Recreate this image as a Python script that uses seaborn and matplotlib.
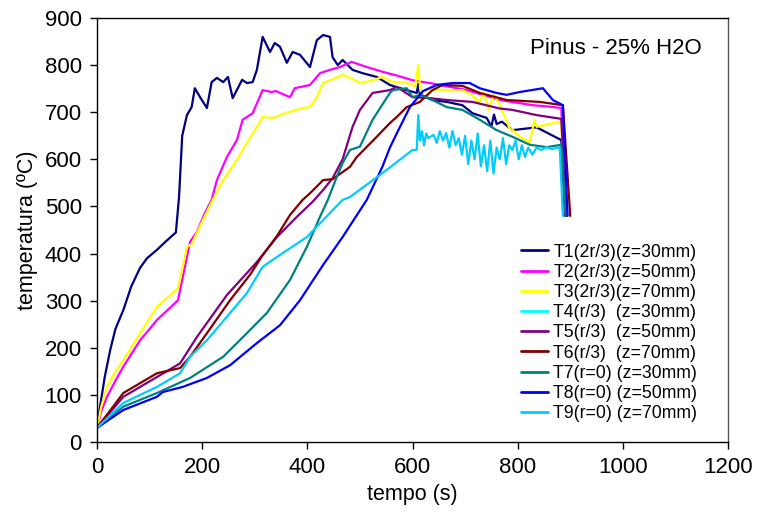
import matplotlib
matplotlib.use("Agg")
import matplotlib.pyplot as plt
import seaborn as sns

# tempo (s) / temperatura (C)
t1_t = [0, 5, 15, 25, 35, 50, 65, 82, 95, 114, 130, 150, 156, 162, 171, 180, 186, 196, 209, 218, 228, 240, 249,
        258, 276, 285, 296, 304, 315, 329, 338, 348, 361, 372, 386, 405, 418, 430, 443, 448, 458, 467, 486,
        505, 532, 557, 589, 608, 611, 614, 638, 665, 695, 714, 741, 750, 755, 760, 770, 790, 836, 883, 890]
t1_y = [30, 70, 140, 195, 240, 280, 330, 370, 390, 408, 425, 445, 520, 650, 694, 711, 751, 732, 709, 764, 773,
        764, 775, 730, 769, 762, 764, 790, 860, 828, 847, 839, 805, 828, 822, 796, 853, 864, 860, 817, 800,
        811, 790, 783, 775, 758, 747, 741, 760, 738, 726, 722, 715, 698, 688, 670, 695, 675, 680, 662, 668,
        641, 480]

t2_t = [0, 8, 19, 35, 50, 82, 114, 154, 177, 190, 205, 218, 228, 247, 266, 277, 296, 315, 332, 340, 367, 376,
        405, 424, 443, 462, 484, 513, 543, 570, 600, 633, 665, 700, 740, 766, 800, 829, 860, 883, 892]
t2_y = [30, 65, 96, 130, 160, 216, 259, 301, 425, 446, 486, 514, 556, 605, 641, 684, 698, 747, 743, 745, 732,
        751, 758, 783, 790, 796, 807, 796, 786, 778, 768, 762, 755, 748, 735, 726, 720, 715, 712, 709, 480]

t3_t = [0, 8, 19, 35, 50, 82, 114, 154, 171, 180, 205, 220, 240, 266, 285, 304, 315, 334, 348, 367, 391, 405,
        418, 430, 443, 467, 481, 500, 524, 543, 560, 590, 605, 611, 615, 640, 665, 695, 715, 728, 735, 745,
        755, 766, 785, 791, 804, 823, 832, 836, 867, 883, 892]
t3_y = [30, 75, 117, 150, 174, 231, 287, 326, 414, 420, 480, 514, 556, 599, 635, 669, 690, 688, 694, 701, 709,
        711, 732, 762, 768, 779, 773, 762, 768, 775, 765, 762, 755, 800, 745, 748, 747, 747, 735, 720, 745,
        705, 740, 715, 665, 662, 648, 637, 684, 669, 677, 680, 480]

t4_t = []
t4_y = []

t5_t = [0, 50, 114, 158, 190, 247, 304, 342, 380, 410, 430, 448, 467, 486, 500, 524, 557, 570, 600, 633, 665,
        714, 766, 790, 836, 883, 892]
t5_y = [30, 96, 138, 167, 223, 312, 382, 435, 478, 510, 535, 560, 600, 669, 705, 741, 747, 754, 732, 730, 726,
        722, 708, 705, 694, 686, 480]

t6_t = [0, 50, 114, 158, 177, 209, 253, 291, 314, 342, 367, 391, 405, 430, 448, 481, 494, 532, 557, 570, 589,
        614, 638, 657, 695, 728, 779, 842, 886, 900]
t6_y = [30, 104, 146, 157, 181, 231, 301, 355, 395, 437, 482, 514, 528, 556, 558, 584, 605, 648, 677, 690, 711,
        722, 747, 758, 756, 741, 726, 722, 715, 480]

t7_t = [0, 50, 114, 177, 240, 285, 323, 367, 399, 424, 439, 456, 467, 481, 500, 524, 557, 563, 589, 600, 614,
        638, 665, 695, 728, 760, 790, 823, 855, 883, 892]
t7_y = [30, 75, 104, 136, 181, 231, 274, 344, 414, 478, 514, 563, 592, 620, 627, 684, 741, 747, 751, 732, 737,
        726, 711, 705, 684, 662, 648, 631, 626, 631, 480]

t8_t = [0, 50, 114, 125, 163, 209, 253, 304, 348, 386, 430, 467, 513, 524, 543, 557, 570, 595, 620, 646, 676,
        709, 728, 760, 779, 804, 848, 867, 886, 895]
t8_y = [30, 68, 96, 106, 117, 136, 163, 210, 248, 301, 376, 435, 514, 540, 585, 625, 655, 711, 745, 758, 762,
        762, 751, 741, 737, 743, 751, 726, 715, 480]

t9_t = [0, 50, 114, 158, 177, 209, 253, 285, 315, 353, 399, 430, 467, 481, 543, 600, 608, 611, 614, 618, 622,
        626, 630, 634, 640, 646, 652, 658, 664, 670, 676, 682, 688, 694, 700, 706, 712, 718, 724, 730, 736,
        742, 748, 754, 760, 766, 772, 778, 784, 790, 796, 802, 808, 814, 820, 828, 836, 845, 855, 865, 880, 886]
t9_y = [30, 83, 117, 146, 181, 216, 274, 316, 372, 401, 435, 471, 514, 520, 571, 620, 620, 694, 640, 660, 630,
        655, 645, 648, 652, 635, 660, 640, 656, 625, 660, 630, 645, 610, 650, 590, 640, 600, 655, 585, 630,
        575, 640, 570, 625, 600, 645, 590, 630, 620, 640, 600, 630, 605, 625, 610, 625, 620, 626, 622, 626, 480]

series_t = [t1_t, t2_t, t3_t, t4_t, t5_t, t6_t, t7_t, t8_t, t9_t]
series_y = [t1_y, t2_y, t3_y, t4_y, t5_y, t6_y, t7_y, t8_y, t9_y]
labels = ["T1(2r/3)(z=30mm)", "T2(2r/3)(z=50mm)", "T3(2r/3)(z=70mm)",
          "T4(r/3)  (z=30mm)", "T5(r/3)  (z=50mm)", "T6(r/3)  (z=70mm)",
          "T7(r=0) (z=30mm)", "T8(r=0) (z=50mm)", "T9(r=0) (z=70mm)"]
colors = ["#000080", "#FF00FF", "#FFFF00", "#00FFFF", "#800080",
          "#800000", "#008080", "#0000FF", "#00CCFF"]

sns.set_style("ticks")
plt.rcParams['font.family'] = ['Liberation Sans', 'DejaVu Sans']
plt.rcParams.update({"text.color": "black", "axes.labelcolor": "black",
                     "xtick.color": "black", "ytick.color": "black"})

fig = plt.figure(figsize=(7.58, 5.16), dpi=100)
ax = fig.add_axes([0.128, 0.1434, 0.8324, 0.8216])

for t, y, lab, col in zip(series_t, series_y, labels, colors):
    if len(t) == 0:
        ax.plot([], [], color=col, lw=2, label=lab)
        continue
    sns.lineplot(x=t, y=y, color=col, lw=1.6, label=lab, estimator=None, sort=False, ax=ax)

ax.set_xlim(0, 1200)
ax.set_ylim(0, 900)
ax.set_xticks(range(0, 1201, 200))
ax.set_yticks(range(0, 901, 100))
ax.tick_params(labelsize=16, length=5, width=1, pad=6)
ax.set_xlabel("tempo (s)", fontsize=15.5, labelpad=4)
ax.set_ylabel("temperatura (ºC)", fontsize=15.5, labelpad=5)
for s in ax.spines.values():
    s.set_color("black")
    s.set_linewidth(1)
ax.spines["right"].set_color("#555555")

ax.text(986, 836, "Pinus - 25% H2O", fontsize=16, ha="center", va="center")

leg = ax.legend(loc="upper left", bbox_to_anchor=(0.653, 0.497), fontsize=12.7, frameon=True,
                framealpha=1, edgecolor="white", fancybox=False, borderpad=0.2,
                labelspacing=0.18, handlelength=1.5, handletextpad=0.3)
for h in leg.get_lines():
    h.set_linewidth(2)

fig.savefig("out.png", dpi=100)
